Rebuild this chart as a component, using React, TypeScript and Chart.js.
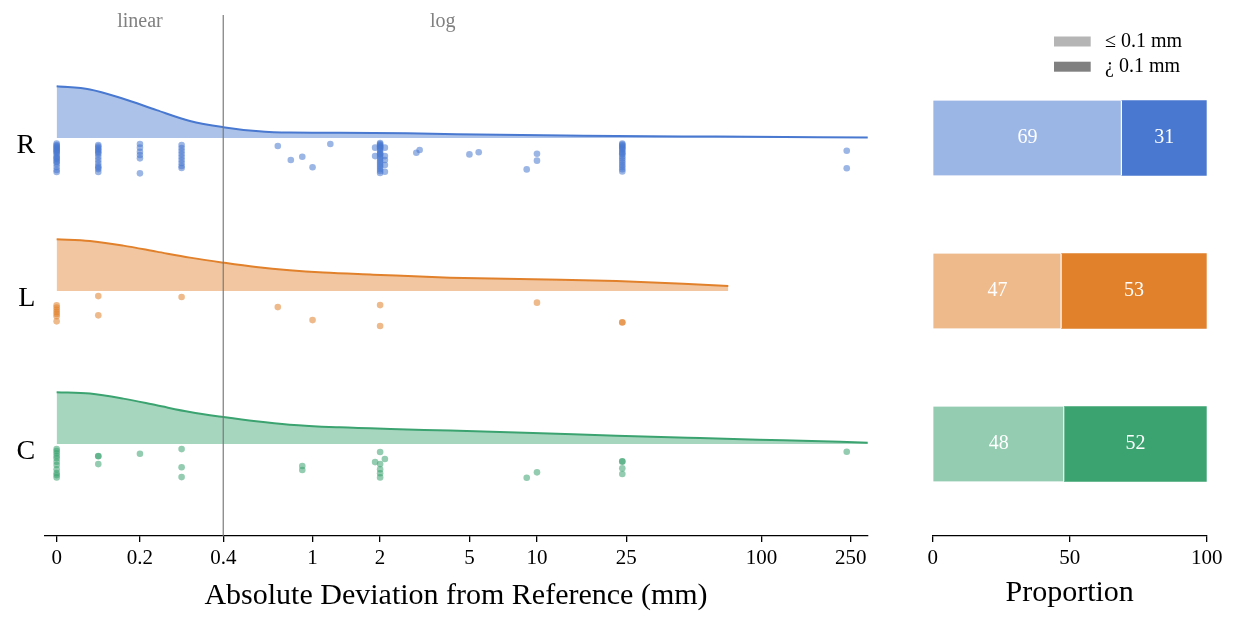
import React, { useEffect, useRef } from "react";
import { Chart, registerables } from "chart.js";

Chart.register(...registerables);
Chart.defaults.font.family = "'Liberation Serif', 'Times New Roman', serif";
Chart.defaults.color = "#000";

// ---------------- data ----------------
const ROWS = ["R", "L", "C"];

const X_TICK_VALUES = [0, 0.2, 0.4, 1, 2, 5, 10, 25, 100, 250];
const X_TICK_LABELS = ["0", "0.2", "0.4", "1", "2", "5", "10", "25", "100", "250"];
const LINEAR_LIMIT = 0.4; // axis is linear below, log above

// KDE curves: x in mm, density normalised to the peak
const KDE_R_X = [0, 0.08, 0.16, 0.24, 0.32, 0.4, 0.56, 0.79, 1.32, 2.63, 4.39, 16.0, 63.2, 300];
const KDE_R_Y = [1.0, 0.94, 0.76, 0.54, 0.33, 0.21, 0.135, 0.105, 0.104, 0.091, 0.072, 0.046, 0.027, 0.008];
const KDE_L_X = [0, 0.08, 0.16, 0.24, 0.32, 0.4, 0.56, 0.79, 1.12, 1.86, 4.1, 9.6, 22.6, 44.9, 71.2];
const KDE_L_Y = [1.0, 0.967, 0.878, 0.762, 0.646, 0.549, 0.464, 0.4, 0.356, 0.317, 0.259, 0.226, 0.193, 0.143, 0.097];
const KDE_C_X = [0, 0.08, 0.16, 0.24, 0.32, 0.4, 0.56, 0.79, 1.32, 2.22, 4.1, 9.6, 22.6, 53.2, 125, 300];
const KDE_C_Y = [1.0, 0.975, 0.878, 0.749, 0.619, 0.522, 0.439, 0.375, 0.323, 0.29, 0.26, 0.213, 0.162, 0.116, 0.072, 0.027];

// individual observations (mm) and their vertical jitter (row units)
const PTS_R_X = [
  0, 0, 0, 0, 0, 0, 0, 0, 0, 0, 0, 0, 0, 0, 0, 0, 0, 0, 0, 0,
  0.1, 0.1, 0.1, 0.1, 0.1, 0.1, 0.1, 0.1, 0.1, 0.1, 0.1, 0.1, 0.1, 0.1,
  0.2, 0.2, 0.2, 0.2, 0.2, 0.2,
  0.3, 0.3, 0.3, 0.3, 0.3, 0.3, 0.3, 0.3, 0.3,
  0.7, 0.8, 0.9, 1.0, 1.2, 1.9, 1.9,
  2, 2, 2, 2, 2, 2, 2, 2, 2, 2, 2, 2, 2, 2, 2, 2, 2, 2, 2, 2,
  2.1, 2.1, 2.1, 2.1, 2.1,
  2.9, 3.0, 5, 5.5, 9, 10, 10,
  24, 24, 24, 24, 24, 24, 24, 24, 24, 24, 24, 24, 24, 24, 24, 24, 24, 24,
  240, 240,
];
const PTS_R_J = [
  0.036, 0.046, 0.052, 0.059, 0.065, 0.072, 0.078, 0.085, 0.092, 0.098, 0.111, 0.124, 0.131, 0.137, 0.15, 0.157, 0.17, 0.19, 0.209, 0.222,
  0.046, 0.056, 0.065, 0.075, 0.085, 0.095, 0.105, 0.124, 0.144, 0.163, 0.183, 0.193, 0.203, 0.222,
  0.039, 0.063, 0.09, 0.111, 0.133, 0.231,
  0.046, 0.065, 0.085, 0.105, 0.124, 0.144, 0.163, 0.183, 0.196,
  0.052, 0.144, 0.122, 0.191, 0.039, 0.063, 0.118,
  0.033, 0.04, 0.046, 0.053, 0.059, 0.066, 0.072, 0.085, 0.098, 0.105, 0.111, 0.124, 0.137, 0.15, 0.163, 0.176, 0.19, 0.203, 0.216, 0.229,
  0.063, 0.118, 0.144, 0.176, 0.22,
  0.096, 0.078, 0.107, 0.093, 0.205, 0.148, 0.103,
  0.036, 0.043, 0.05, 0.057, 0.064, 0.071, 0.078, 0.092, 0.099, 0.106, 0.12, 0.134, 0.148, 0.162, 0.176, 0.19, 0.204, 0.218,
  0.083, 0.198,
];
const PTS_L_X = [0, 0, 0, 0, 0, 0, 0, 0.1, 0.1, 0.3, 0.7, 1.0, 2, 2, 10, 24, 24];
const PTS_L_J = [0.093, 0.108, 0.122, 0.137, 0.15, 0.165, 0.198, 0.033, 0.159, 0.039, 0.105, 0.19, 0.092, 0.229, 0.076, 0.204, 0.206];
const PTS_C_X = [
  0, 0, 0, 0, 0, 0, 0, 0, 0, 0, 0,
  0.1, 0.1, 0.1, 0.2, 0.3, 0.3, 0.3, 0.9, 0.9, 1.9,
  2, 2, 2, 2, 2, 2.1, 9, 10, 24, 24, 24, 24, 240,
];
const PTS_C_J = [
  0.033, 0.046, 0.061, 0.078, 0.093, 0.116, 0.137, 0.165, 0.19, 0.203, 0.218,
  0.078, 0.08, 0.131, 0.063, 0.033, 0.152, 0.216, 0.144, 0.17, 0.118,
  0.052, 0.131, 0.165, 0.191, 0.218, 0.098, 0.22, 0.185, 0.113, 0.115, 0.159, 0.196, 0.05,
];

// proportions (%)
const SHARE_LE = [69, 47, 48];
const SHARE_GT = [31, 53, 52];
const LEGEND_LABELS = ["\u2264 0.1 mm", "\u00bf 0.1 mm"];

// ---------------- styling ----------------
const DARK = ["rgb(72,120,207)", "rgb(225,129,44)", "rgb(59,163,112)"];
const RGB = [[72, 120, 207], [225, 129, 44], [59, 163, 112]];
const rgba = (c: number[], a: number) => `rgba(${c[0]},${c[1]},${c[2]},${a})`;
const FILL = RGB.map((c) => rgba(c, 0.45));
const POINT = RGB.map((c) => rgba(c, 0.55));
const LIGHT = RGB.map((c) => rgba(c, 0.55));
const LEGEND_COLORS = ["#b5b5b5", "#808080"];

const KDE_HEIGHT = 0.338; // row units
const LIN_SCALE = 416.5 / 224.4; // linear-segment units per mm, in decades
const U_BREAK = LINEAR_LIMIT * LIN_SCALE;
const toU = (x: number) => (x <= LINEAR_LIMIT ? x * LIN_SCALE : U_BREAK + Math.log10(x / LINEAR_LIMIT));
const X_MIN = -0.055;
const X_MAX = 3.614;
const Y_MIN = -0.804;
const Y_MAX = 2.601;

const KDE_X = [KDE_R_X, KDE_L_X, KDE_C_X];
const KDE_Y = [KDE_R_Y, KDE_L_Y, KDE_C_Y];
const PTS_X = [PTS_R_X, PTS_L_X, PTS_C_X];
const PTS_J = [PTS_R_J, PTS_L_J, PTS_C_J];

const noPadY = (s: any) => {
  s.paddingTop = 0;
  s.paddingBottom = 0;
};
const fitX = (s: any) => {
  s.height = 90;
  s.paddingLeft = 0;
  s.paddingRight = 0;
};

function leftConfig(): any {
  const datasets: any[] = [
    {
      type: "line",
      data: [
        { x: toU(LINEAR_LIMIT), y: Y_MIN },
        { x: toU(LINEAR_LIMIT), y: Y_MAX },
      ],
      borderColor: "rgba(120,120,120,0.9)",
      borderWidth: 1.3,
      pointRadius: 0,
      fill: false,
      order: 0,
    },
  ];
  ROWS.forEach((_, i) => {
    datasets.push({
      type: "line",
      data: KDE_X[i].map((x, k) => ({ x: toU(x), y: i - KDE_Y[i][k] * KDE_HEIGHT })),
      borderColor: DARK[i],
      backgroundColor: FILL[i],
      borderWidth: 2,
      pointRadius: 0,
      fill: { value: i },
      cubicInterpolationMode: "monotone",
      order: 1,
    });
    datasets.push({
      type: "scatter",
      data: PTS_X[i].map((x, k) => ({ x: toU(x), y: i + PTS_J[i][k] })),
      backgroundColor: POINT[i],
      borderWidth: 0,
      pointRadius: 3.3,
      order: 1,
    });
  });

  const textPlugin = {
    id: "regionText",
    afterDraw(chart: any) {
      const ctx = chart.ctx;
      const xs = chart.scales.x;
      ctx.save();
      ctx.fillStyle = "#808080";
      ctx.font = "20px 'Liberation Serif', serif";
      ctx.textAlign = "center";
      ctx.textBaseline = "middle";
      ctx.fillText("linear", xs.getPixelForValue(toU(0.2)), 22);
      ctx.fillText("log", xs.getPixelForValue(toU(3.8)), 22);
      ctx.restore();
    },
  };

  return {
    type: "line",
    data: { datasets },
    plugins: [textPlugin],
    options: {
      responsive: false,
      animation: false,
      layout: { padding: { top: 15, right: 32.3, left: 0, bottom: 0 } },
      plugins: { legend: { display: false }, tooltip: { enabled: false } },
      scales: {
        x: {
          type: "linear",
          min: X_MIN,
          max: X_MAX,
          afterBuildTicks: (s: any) => {
            s.ticks = X_TICK_VALUES.map((v) => ({ value: toU(v) }));
          },
          ticks: {
            callback: (_v: any, idx: number) => X_TICK_LABELS[idx],
            font: { size: 21 },
            color: "#000",
            padding: 4,
            maxRotation: 0,
            autoSkip: false,
          },
          grid: { drawOnChartArea: false, drawTicks: true, tickLength: 6, color: "#000", lineWidth: 1.3 },
          border: { display: true, color: "#000", width: 1.3 },
          title: {
            display: true,
            text: "Absolute Deviation from Reference (mm)",
            font: { size: 30 },
            color: "#000",
            padding: { top: 0, bottom: 12 },
          },
          afterFit: fitX,
        },
        y: {
          type: "linear",
          reverse: true,
          min: Y_MIN,
          max: Y_MAX,
          afterBuildTicks: (s: any) => {
            s.ticks = ROWS.map((_, i) => ({ value: i }));
          },
          ticks: {
            callback: (_v: any, idx: number) => ROWS[idx],
            font: { size: 28 },
            color: "#000",
            padding: 9,
            labelOffset: 7.5,
          },
          grid: { display: false, drawTicks: false },
          border: { display: false },
          afterFit: (s: any) => {
            s.width = 44.3;
            noPadY(s);
          },
        },
      },
    },
  };
}

function rightConfig(): any {
  const labelPlugin = {
    id: "barText",
    afterDatasetsDraw(chart: any) {
      const ctx = chart.ctx;
      ctx.save();
      ctx.fillStyle = "#fff";
      ctx.font = "20px 'Liberation Serif', serif";
      ctx.textAlign = "center";
      ctx.textBaseline = "middle";
      const values = [SHARE_LE, SHARE_GT];
      chart.data.datasets.forEach((_: any, di: number) => {
        const meta = chart.getDatasetMeta(di);
        meta.data.forEach((el: any, j: number) => {
          const p = el.getCenterPoint();
          ctx.fillText(String(values[di][j]), p.x, p.y);
        });
      });
      ctx.restore();
    },
    afterDraw(chart: any) {
      const ctx = chart.ctx;
      ctx.save();
      ctx.font = "20px 'Liberation Serif', serif";
      ctx.textBaseline = "middle";
      ctx.textAlign = "left";
      const ys = [41.5, 66.7];
      LEGEND_LABELS.forEach((t, i) => {
        ctx.fillStyle = LEGEND_COLORS[i];
        ctx.fillRect(154, ys[i] - 5, 36.7, 10);
        ctx.fillStyle = "#000";
        ctx.fillText(t, 205, ys[i]);
      });
      ctx.restore();
    },
  };

  return {
    type: "bar",
    data: {
      datasets: [
        {
          label: LEGEND_LABELS[0],
          data: SHARE_LE.map((v, i) => ({ x: v, y: i })),
          backgroundColor: LIGHT,
          borderColor: "#fff",
          borderWidth: { right: 1.3, left: 0, top: 0, bottom: 0 },
          borderSkipped: "start",
          barThickness: 75,
        },
        {
          label: LEGEND_LABELS[1],
          data: SHARE_GT.map((v, i) => ({ x: v, y: i })),
          backgroundColor: DARK,
          borderWidth: 0,
          barThickness: 75,
        },
      ],
    },
    plugins: [labelPlugin],
    options: {
      indexAxis: "y",
      responsive: false,
      animation: false,
      layout: { padding: { top: 15, right: 33.3, left: 32.7, bottom: 0 } },
      plugins: { legend: { display: false }, tooltip: { enabled: false } },
      scales: {
        x: {
          type: "linear",
          min: 0,
          max: 100,
          stacked: true,
          ticks: { stepSize: 50, font: { size: 21 }, color: "#000", padding: 4, maxRotation: 0 },
          grid: { drawOnChartArea: false, drawTicks: true, tickLength: 6, color: "#000", lineWidth: 1.3 },
          border: { display: true, color: "#000", width: 1.3 },
          title: {
            display: true,
            text: "Proportion",
            font: { size: 30 },
            color: "#000",
            padding: { top: 0, bottom: 15 },
          },
          afterFit: fitX,
        },
        y: {
          type: "linear",
          reverse: true,
          min: Y_MIN,
          max: Y_MAX,
          offset: false,
          stacked: true,
          display: false,
          afterFit: noPadY,
        },
      },
    },
  };
}

export default function App() {
  const leftRef = useRef<HTMLCanvasElement>(null);
  const rightRef = useRef<HTMLCanvasElement>(null);
  useEffect(() => {
    const left = new Chart(leftRef.current as HTMLCanvasElement, leftConfig());
    const right = new Chart(rightRef.current as HTMLCanvasElement, rightConfig());
    return () => {
      left.destroy();
      right.destroy();
    };
  }, []);
  return (
    <div style={{ position: "fixed", left: 0, top: 0, width: 1240, height: 626, background: "#fff" }}>
      <canvas
        ref={leftRef}
        width={900}
        height={626}
        style={{ position: "absolute", left: 0, top: 0, width: 900, height: 626 }}
      />
      <canvas
        ref={rightRef}
        width={340}
        height={626}
        style={{ position: "absolute", left: 900, top: 0, width: 340, height: 626 }}
      />
    </div>
  );
}
